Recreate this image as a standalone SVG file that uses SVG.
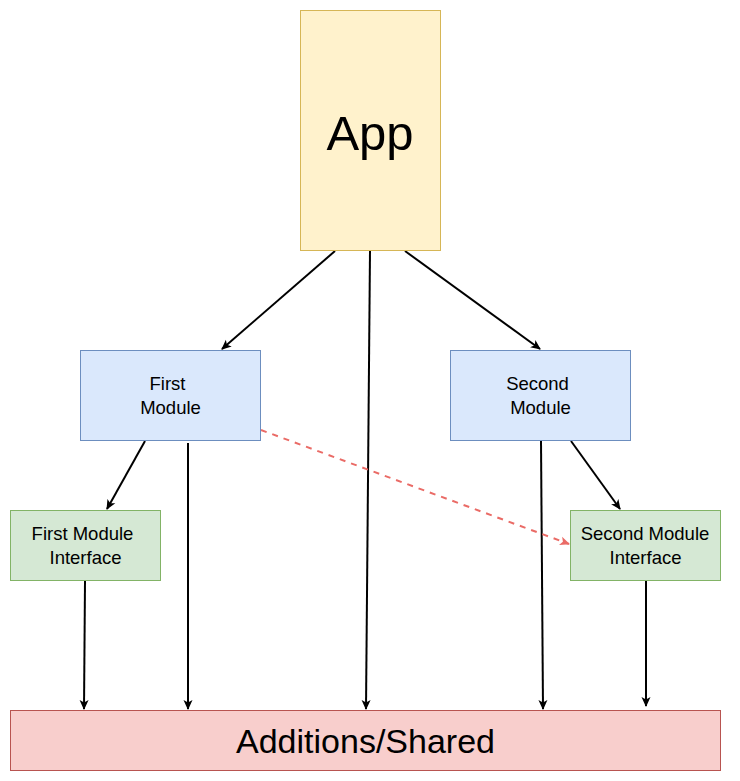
<svg xmlns="http://www.w3.org/2000/svg" width="740" height="781" viewBox="0 0 740 781">
<style>
text{font-family:"Liberation Sans",Arial,Helvetica,sans-serif;fill:#000;text-anchor:middle;dominant-baseline:central}
.c{fill:none;stroke:#000;stroke-width:2}
.d{fill:none;stroke:#EA6B66;stroke-width:2;stroke-dasharray:6 6}
.blue{fill:#dae8fc;stroke:#6c8ebf}
.green{fill:#d5e8d4;stroke:#82b366}
.s{font-size:18.5px}
</style>
<defs>
<marker id="a" viewBox="0 0 10 10" refX="9" refY="5" markerWidth="10" markerHeight="10" markerUnits="userSpaceOnUse" orient="auto">
<path d="M0,0.5 L10,5 L0,9.5 L2.5,5 z" fill="#000"/>
</marker>
<marker id="ar" viewBox="0 0 10 10" refX="9" refY="5" markerWidth="10" markerHeight="10" markerUnits="userSpaceOnUse" orient="auto">
<path d="M0,0.5 L10,5 L0,9.5 L2.5,5 z" fill="#EA6B66"/>
</marker>
</defs>
<g id="connectors">
<path class="c" d="M335,251 L222,349" marker-end="url(#a)"/>
<path class="c" d="M370,251 L366,709" marker-end="url(#a)"/>
<path class="c" d="M405,251 L540,349" marker-end="url(#a)"/>
<path class="c" d="M145,441 L107,509" marker-end="url(#a)"/>
<path class="c" d="M188,443 L188,709" marker-end="url(#a)"/>
<path class="c" d="M85,581 L84,709" marker-end="url(#a)"/>
<path class="c" d="M541,441 L543,709" marker-end="url(#a)"/>
<path class="c" d="M571,441 L620,509" marker-end="url(#a)"/>
<path class="c" d="M646,581 L646,706" marker-end="url(#a)"/>
<path class="d" d="M261,430 L569,544" marker-end="url(#ar)"/>
</g>
<g id="app">
<rect x="300.5" y="10.5" width="140" height="240" fill="#fff2cc" stroke="#d6b656"/>
<text x="370" y="133" font-size="49">App</text>
</g>
<g id="first-module">
<rect class="blue" x="80.5" y="350.5" width="180" height="90"/>
<text class="s" x="167.5" y="383">First</text>
<text class="s" x="170.5" y="407">Module</text>
</g>
<g id="second-module">
<rect class="blue" x="450.5" y="350.5" width="180" height="90"/>
<text class="s" x="537.5" y="383">Second</text>
<text class="s" x="540.5" y="407">Module</text>
</g>
<g id="first-module-interface">
<rect class="green" x="10.5" y="510.5" width="150" height="70"/>
<text class="s" x="82.5" y="533">First Module</text>
<text class="s" x="85.5" y="557">Interface</text>
</g>
<g id="second-module-interface">
<rect class="green" x="570.5" y="510.5" width="150" height="70"/>
<text class="s" x="645" y="533">Second Module</text>
<text class="s" x="645.5" y="557">Interface</text>
</g>
<g id="additions-shared">
<rect x="10.5" y="710.5" width="710" height="60" fill="#f8cecc" stroke="#b85450"/>
<text x="365.5" y="741" font-size="34">Additions/Shared</text>
</g>
</svg>
